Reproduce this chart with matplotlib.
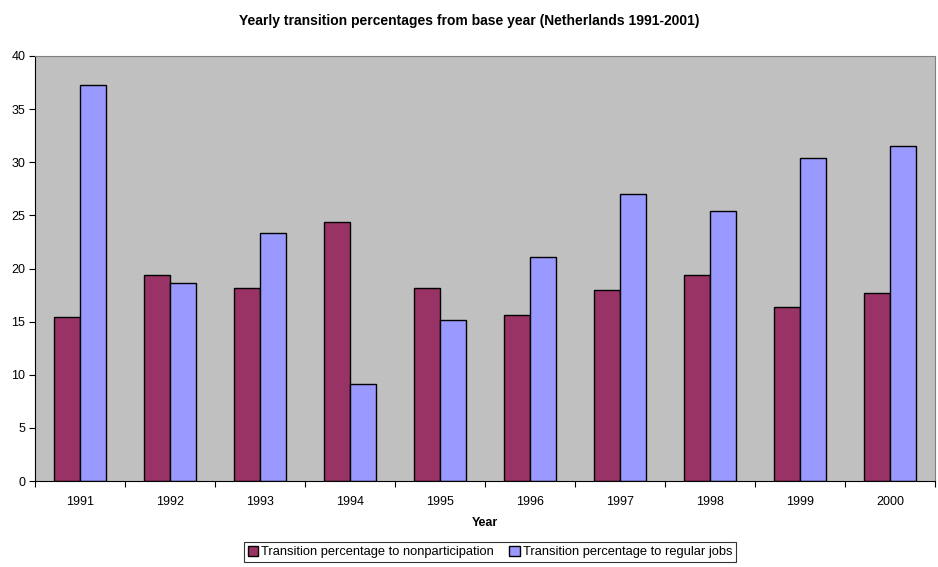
import matplotlib
matplotlib.use("Agg")
import matplotlib.pyplot as plt
import numpy as np

years = ["1991", "1992", "1993", "1994", "1995", "1996", "1997", "1998", "1999", "2000"]
nonparticipation = [15.4, 19.4, 18.2, 24.4, 18.2, 15.6, 18.0, 19.4, 16.35, 17.65]
regular_jobs = [37.3, 18.65, 23.3, 9.15, 15.15, 21.05, 27.0, 25.45, 30.4, 31.5]

plt.rcParams['font.family'] = ['Liberation Sans', 'DejaVu Sans']

fig = plt.figure(figsize=(9.38, 5.67), dpi=100)
ax = fig.add_axes([35/938, 86/567, 900/938, 425/567])
ax.set_facecolor('#C0C0C0')

x = np.arange(len(years))
w = 0.29
ax.bar(x - w/2, nonparticipation, w, color='#993366', edgecolor='black', linewidth=1,
       label='Transition percentage to nonparticipation')
ax.bar(x + w/2, regular_jobs, w, color='#9999FF', edgecolor='black', linewidth=1,
       label='Transition percentage to regular jobs')

ax.set_xlim(-0.5, len(years) - 0.5)
ax.set_ylim(0, 40)
ax.set_yticks(range(0, 41, 5))
ax.tick_params(axis='y', labelsize=9, length=4, direction='out', width=0.8, pad=3)
ax.set_xticks(x)
ax.set_xticklabels(years)
ax.tick_params(axis='x', which='major', length=0, labelsize=9, pad=11)
ax.set_xticks(np.arange(-0.5, len(years)), minor=True)
ax.tick_params(axis='x', which='minor', length=4, direction='out', width=0.8)

for s in ['left', 'bottom']:
    ax.spines[s].set_color('black')
    ax.spines[s].set_linewidth(0.8)
for s in ['top', 'right']:
    ax.spines[s].set_color('#808080')
    ax.spines[s].set_linewidth(0.8)

ax.set_xlabel('Year', fontsize=9, fontweight='bold', labelpad=6.5)
fig.text(0.5, 1 - 21/567, 'Yearly transition percentages from base year (Netherlands 1991-2001)',
         ha='center', va='center', fontsize=10, fontweight='bold')

leg = fig.legend(loc='center', bbox_to_anchor=(490/938, 1 - 552/567), ncol=2, fontsize=9.3,
                 frameon=True, fancybox=False, edgecolor='black', handlelength=0.8,
                 handleheight=0.8, handletextpad=0.25, columnspacing=1.2, borderpad=0.3,
                 borderaxespad=0)
leg.get_frame().set_linewidth(0.8)

fig.savefig('out.png', dpi=100)
